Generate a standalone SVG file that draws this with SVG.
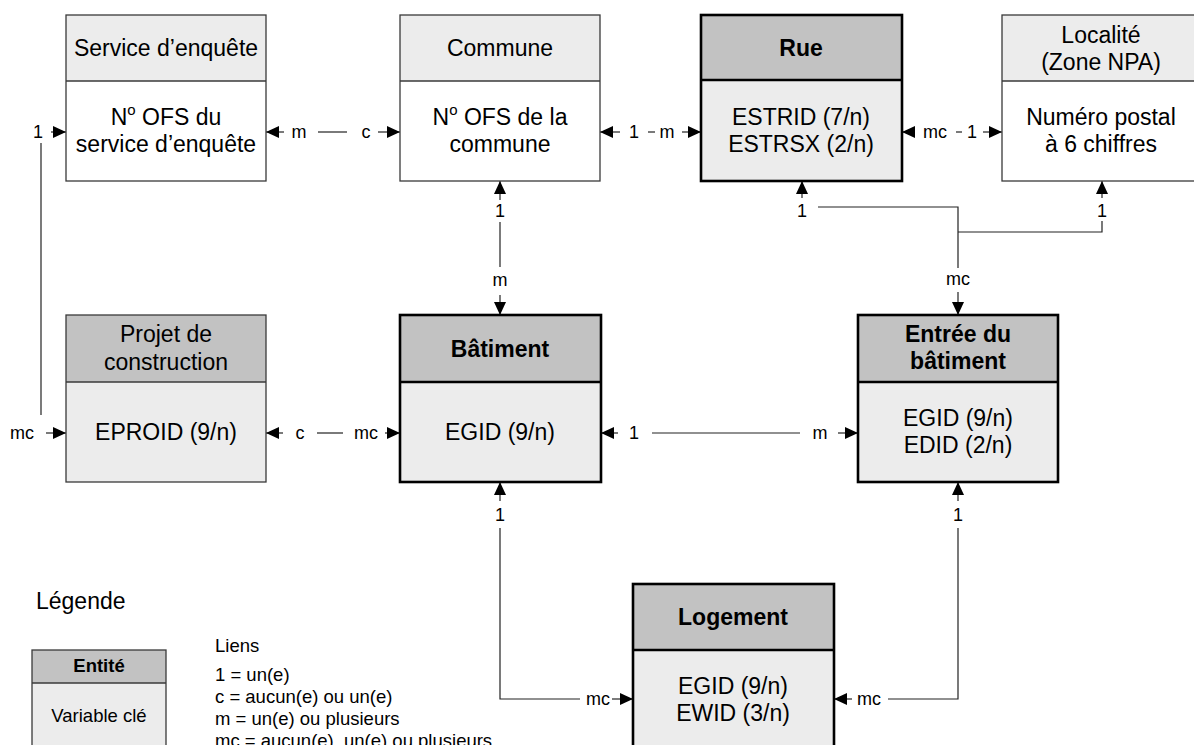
<svg xmlns="http://www.w3.org/2000/svg" width="1194" height="745" viewBox="0 0 1194 745">
<style>
text{font-family:"Liberation Sans",Arial,Helvetica,sans-serif;fill:#000}
.t{font-size:23px;text-anchor:middle}
.b{font-weight:bold}
.l{font-size:18px;text-anchor:middle}
.lg{font-size:18.5px}
.hL{fill:#ececec}
.bW{fill:#ffffff}
.hD{fill:#c2c2c2}
.bL{fill:#ececec}
.thin{fill:none;stroke:#3a3a3a;stroke-width:1.3}
.thick{fill:none;stroke:#000;stroke-width:2.6}
.c{fill:none;stroke:#222;stroke-width:1.2}
.a1{marker-end:url(#ah)}
.a0{marker-start:url(#ah)}
</style>
<defs>
<marker id="ah" viewBox="0 0 13 12" markerWidth="13" markerHeight="12" refX="13" refY="6" markerUnits="userSpaceOnUse" orient="auto-start-reverse">
<path d="M0,0 L13,6 L0,12 z" fill="#000"/>
</marker>
</defs>
<rect width="1194" height="745" fill="#fff"/>

<g id="connectors">
<!-- Service - Commune -->
<path class="c a0" d="M266,132 H284"/>
<path class="c" d="M318,132 H347"/>
<path class="c a1" d="M378,132 H400"/>
<text class="l" x="299" y="138">m</text>
<text class="l" x="366" y="138">c</text>
<!-- Commune - Rue -->
<path class="c a0" d="M600,132 H620"/>
<path class="c" d="M648,132 H655"/>
<path class="c a1" d="M682,132 H701"/>
<text class="l" x="634" y="138">1</text>
<text class="l" x="667" y="138">m</text>
<!-- Rue - Localite -->
<path class="c a0" d="M902,132 H912"/>
<path class="c" d="M956,132 H962"/>
<path class="c a1" d="M983,132 H1002"/>
<text class="l" x="935" y="138">mc</text>
<text class="l" x="972" y="138">1</text>
<!-- Service - Projet (left loop) -->
<path class="c" d="M41,143 V415"/>
<path class="c a1" d="M51,132 H66"/>
<path class="c a1" d="M46,433 H66"/>
<text class="l" x="38" y="138">1</text>
<text class="l" x="22" y="439">mc</text>
<!-- Commune - Batiment -->
<path class="c a0" d="M500,181 V200"/>
<path class="c" d="M500,222 V267"/>
<path class="c a1" d="M500,295 V315"/>
<text class="l" x="500" y="217">1</text>
<text class="l" x="500" y="286">m</text>
<!-- Rue / Localite - Entree -->
<path class="c a0" d="M802,181 V198"/>
<path class="c a0" d="M1102,181 V198"/>
<path class="c" d="M818,207 H958 V268"/>
<path class="c" d="M958,232 H1102 V221"/>
<path class="c a1" d="M958,292 V315"/>
<text class="l" x="802" y="217">1</text>
<text class="l" x="1102" y="217">1</text>
<text class="l" x="958" y="285">mc</text>
<!-- Projet - Batiment -->
<path class="c a0" d="M266,433 H283"/>
<path class="c" d="M317,433 H343"/>
<path class="c a1" d="M385,433 H400"/>
<text class="l" x="300" y="439">c</text>
<text class="l" x="366" y="439">mc</text>
<!-- Batiment - Entree -->
<path class="c a0" d="M601,433 H618"/>
<path class="c" d="M652,433 H800"/>
<path class="c a1" d="M838,433 H858"/>
<text class="l" x="634" y="439">1</text>
<text class="l" x="820" y="439">m</text>
<!-- Batiment - Logement -->
<path class="c a0" d="M500,482 V501"/>
<path class="c" d="M500,528 V699 H580"/>
<path class="c a1" d="M612,699 H633"/>
<text class="l" x="500" y="521">1</text>
<text class="l" x="598" y="705">mc</text>
<!-- Entree - Logement -->
<path class="c a0" d="M958,482 V501"/>
<path class="c" d="M958,528 V699 H888"/>
<path class="c a0" d="M834,699 H852"/>
<text class="l" x="958" y="521">1</text>
<text class="l" x="869" y="705">mc</text>
</g>

<g id="service">
<rect class="hL" x="66" y="15" width="200" height="66"/>
<rect class="bW" x="66" y="81" width="200" height="100"/>
<rect class="thin" x="66" y="15" width="200" height="166"/>
<line class="thin" x1="66" y1="81" x2="266" y2="81"/>
<text class="t" x="166" y="56">Service d’enquête</text>
<text class="t" x="166" y="125">N<tspan font-size="15" dy="-10">o</tspan><tspan dy="10"> OFS du</tspan></text>
<text class="t" x="166" y="152">service d’enquête</text>
</g>

<g id="commune">
<rect class="hL" x="400" y="15" width="200" height="66"/>
<rect class="bW" x="400" y="81" width="200" height="100"/>
<rect class="thin" x="400" y="15" width="200" height="166"/>
<line class="thin" x1="400" y1="81" x2="600" y2="81"/>
<text class="t" x="500" y="56">Commune</text>
<text class="t" x="500" y="125">N<tspan font-size="15" dy="-10">o</tspan><tspan dy="10"> OFS de la</tspan></text>
<text class="t" x="500" y="152">commune</text>
</g>

<g id="rue">
<rect class="hD" x="701" y="15" width="201" height="65"/>
<rect class="bL" x="701" y="80" width="201" height="101"/>
<rect class="thick" x="701" y="15" width="201" height="166"/>
<line class="thick" x1="701" y1="80" x2="902" y2="80"/>
<text class="t b" x="801" y="56">Rue</text>
<text class="t" x="801" y="125">ESTRID (7/n)</text>
<text class="t" x="801" y="152">ESTRSX (2/n)</text>
</g>

<g id="localite">
<rect class="hL" x="1002" y="15" width="200" height="66"/>
<rect class="bW" x="1002" y="81" width="200" height="100"/>
<rect class="thin" x="1002" y="15" width="200" height="166"/>
<line class="thin" x1="1002" y1="81" x2="1202" y2="81"/>
<text class="t" x="1101" y="43">Localité</text>
<text class="t" x="1101" y="70">(Zone NPA)</text>
<text class="t" x="1101" y="125">Numéro postal</text>
<text class="t" x="1101" y="152">à 6 chiffres</text>
</g>

<g id="projet">
<rect class="hD" x="66" y="315" width="200" height="67"/>
<rect class="bL" x="66" y="382" width="200" height="100"/>
<rect class="thin" x="66" y="315" width="200" height="167"/>
<line class="thin" x1="66" y1="382" x2="266" y2="382"/>
<text class="t" x="166" y="342">Projet de</text>
<text class="t" x="166" y="370">construction</text>
<text class="t" x="166" y="440">EPROID (9/n)</text>
</g>

<g id="batiment">
<rect class="hD" x="400" y="315" width="201" height="67"/>
<rect class="bL" x="400" y="382" width="201" height="100"/>
<rect class="thick" x="400" y="315" width="201" height="167"/>
<line class="thick" x1="400" y1="382" x2="601" y2="382"/>
<text class="t b" x="500" y="357">Bâtiment</text>
<text class="t" x="500" y="440">EGID (9/n)</text>
</g>

<g id="entree">
<rect class="hD" x="858" y="315" width="200" height="67"/>
<rect class="bL" x="858" y="382" width="200" height="100"/>
<rect class="thick" x="858" y="315" width="200" height="167"/>
<line class="thick" x1="858" y1="382" x2="1058" y2="382"/>
<text class="t b" x="958" y="342">Entrée du</text>
<text class="t b" x="958" y="369">bâtiment</text>
<text class="t" x="958" y="426">EGID (9/n)</text>
<text class="t" x="958" y="453">EDID (2/n)</text>
</g>

<g id="logement">
<rect class="hD" x="633" y="584" width="201" height="66"/>
<rect class="bL" x="633" y="650" width="201" height="100"/>
<rect class="thick" x="633" y="584" width="201" height="166"/>
<line class="thick" x1="633" y1="650" x2="834" y2="650"/>
<text class="t b" x="733" y="625">Logement</text>
<text class="t" x="733" y="694">EGID (9/n)</text>
<text class="t" x="733" y="721">EWID (3/n)</text>
</g>

<g id="legende">
<text x="36" y="609" font-size="23">Légende</text>
<rect class="hD" x="32" y="650" width="134" height="33"/>
<rect class="bL" x="32" y="683" width="134" height="70"/>
<rect class="thin" x="32" y="650" width="134" height="103"/>
<line class="thin" x1="32" y1="683" x2="166" y2="683"/>
<text class="lg b" x="99" y="672" text-anchor="middle">Entité</text>
<text class="lg" x="99" y="722" text-anchor="middle">Variable clé</text>
<text class="lg" x="215" y="652">Liens</text>
<text class="lg" x="215" y="681">1 = un(e)</text>
<text class="lg" x="215" y="703">c = aucun(e) ou un(e)</text>
<text class="lg" x="215" y="725">m = un(e) ou plusieurs</text>
<text class="lg" x="215" y="747">mc = aucun(e), un(e) ou plusieurs</text>
</g>
</svg>
